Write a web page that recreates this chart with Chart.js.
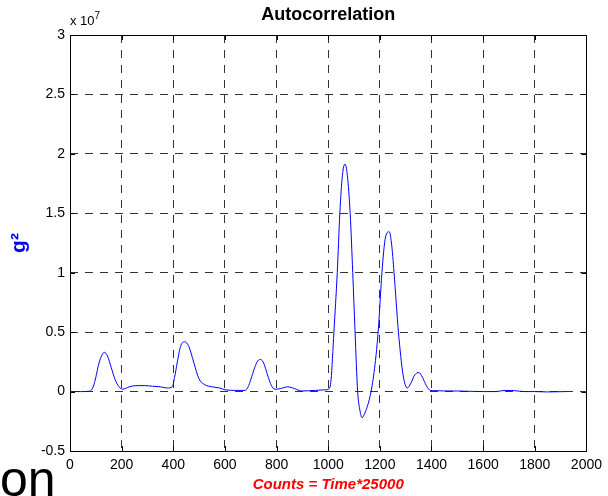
<!DOCTYPE html>
<html>
<head>
<meta charset="utf-8">
<script src="https://cdn.jsdelivr.net/npm/chart.js@4.4.0/dist/chart.umd.min.js"></script>
<style>
body { margin: 0; background: #fff; overflow: hidden; }
#wrap { position: relative; width: 608px; height: 496px; }
#myChart { position: absolute; left: 0; top: 0; }
.exp { position: absolute; left: 70px; top: 14px; font: 13px Arial, "Liberation Sans", sans-serif; line-height: 14px; color: #000; white-space: nowrap; }
.exp span { font-size: 10px; position: relative; top: -6px; }
.cut { position: absolute; left: 0; top: 454px; font: 50px Arial, "Liberation Sans", sans-serif; line-height: 50px; color: #000; }
</style>
</head>
<body>
<div id="wrap">
    <canvas id="myChart" width="608" height="496"></canvas>
    <div class="exp">x 10<span>7</span></div>
    <div class="cut">on</div>
</div>
<script>
// counts (x) and g^2 (in units of 1e7)
var counts = [1, 40, 76, 90, 100, 110, 120, 133, 145, 160, 175, 190, 204, 230, 255, 290, 320, 350, 377,
    396, 405, 415, 428, 444, 460, 480, 499, 520, 550, 580, 601, 640, 678, 690, 700, 715, 728, 738, 750,
    765, 780, 794, 815, 842, 870, 896, 950, 990, 1002, 1011, 1022, 1035, 1045, 1055, 1065, 1074,
    1085, 1095, 1104, 1114, 1123, 1131, 1140, 1155, 1170, 1185, 1195, 1208, 1222, 1236, 1245, 1255,
    1272, 1290, 1306, 1320, 1335, 1351, 1365, 1380, 1396, 1409, 1450, 1500, 1550, 1600, 1650, 1685,
    1720, 1760, 1800, 1850, 1922];
var g2 = [0, 0, 0.003, 0.04, 0.12, 0.22, 0.29, 0.33, 0.30, 0.20, 0.10, 0.04, 0.02, 0.04, 0.05, 0.05, 0.045, 0.04, 0.03,
    0.04, 0.12, 0.24, 0.38, 0.42, 0.38, 0.24, 0.11, 0.06, 0.04, 0.03, 0.015, 0.01, 0.01, 0.04, 0.10, 0.20, 0.26, 0.27, 0.24,
    0.14, 0.05, 0.02, 0.025, 0.04, 0.025, 0.005, 0.01, 0.015, 0.02, 0.10, 0.50, 1.00, 1.50, 1.82, 1.915, 1.82,
    1.50, 1.00, 0.50, 0.0, -0.16, -0.22, -0.19, -0.10, 0.05, 0.30, 0.55, 1.00, 1.30, 1.345, 1.25, 1.00,
    0.50, 0.14, 0.03, 0.07, 0.14, 0.16, 0.12, 0.05, 0.01, 0.008, 0.005, 0.005, 0.002, 0, 0, 0.01,
    0.008, 0, 0, -0.003, 0];

var xTicks = [0, 200, 400, 600, 800, 1000, 1200, 1400, 1600, 1800, 2000];
var yTicks = [-0.5, 0, 0.5, 1, 1.5, 2, 2.5, 3];

var fontFam = 'Arial, "Liberation Sans", sans-serif';
Chart.defaults.font.family = fontFam;
Chart.defaults.color = '#000';

var pts = [];
for (var i = 0; i < counts.length; i++) {
    pts.push({ x: counts[i], y: g2[i] });
}

// black box + inward ticks, matlab style
var framePlugin = {
    id: 'frame',
    afterDraw: function (chart) {
        var ctx = chart.ctx;
        var a = chart.chartArea;
        var sx = chart.scales.x, sy = chart.scales.y;
        ctx.save();
        ctx.setLineDash([]);
        ctx.strokeStyle = '#000';
        ctx.lineWidth = 1;
        ctx.beginPath();
        xTicks.forEach(function (v) {
            var px = Math.round(sx.getPixelForValue(v)) + 0.5;
            ctx.moveTo(px, a.bottom); ctx.lineTo(px, a.bottom - 5);
            ctx.moveTo(px, a.top); ctx.lineTo(px, a.top + 5);
        });
        yTicks.forEach(function (v) {
            var py = Math.round(sy.getPixelForValue(v)) + 0.5;
            ctx.moveTo(a.left, py); ctx.lineTo(a.left + 5, py);
            ctx.moveTo(a.right, py); ctx.lineTo(a.right - 5, py);
        });
        ctx.stroke();
        ctx.strokeRect(Math.round(a.left) + 0.5, Math.round(a.top) + 0.5,
            Math.round(a.right - a.left), Math.round(a.bottom - a.top));
        ctx.restore();
    }
};

var myChart = new Chart(document.getElementById('myChart'), {
    type: 'line',
    data: {
        datasets: [{
            label: 'g2',
            data: pts,
            borderColor: '#0000ff',
            borderWidth: 1,
            pointRadius: 0,
            fill: false,
            cubicInterpolationMode: 'monotone'
        }]
    },
    options: {
        responsive: false,
        animation: false,
        devicePixelRatio: 1,
        layout: { padding: { left: 0, right: 18, top: 0, bottom: 0 } },
        plugins: {
            legend: { display: false },
            tooltip: { enabled: false },
            title: {
                display: true,
                text: 'Autocorrelation',
                fullSize: false,
                color: '#000',
                font: { size: 18, weight: 'bold' },
                padding: { top: 4, bottom: 9.4 }
            }
        },
        scales: {
            x: {
                type: 'linear',
                min: xTicks[0],
                max: xTicks[xTicks.length - 1],
                afterBuildTicks: function (s) {
                    s.ticks = xTicks.map(function (v) { return { value: v }; });
                },
                afterFit: function (s) { s.height = 45; },
                ticks: {
                    autoSkip: false,
                    maxRotation: 0,
                    padding: 6,
                    font: { size: 14 },
                    callback: function (v) { return String(v); }
                },
                grid: { color: '#333', lineWidth: 1, drawTicks: false },
                border: { display: false, dash: [8, 7] },
                title: {
                    display: true,
                    text: 'Counts = Time*25000',
                    color: '#ff0000',
                    font: { size: 15, weight: 'bold', style: 'italic' },
                    padding: { top: 0, bottom: 2 }
                }
            },
            y: {
                type: 'linear',
                min: yTicks[0],
                max: yTicks[yTicks.length - 1],
                afterBuildTicks: function (s) {
                    s.ticks = yTicks.map(function (v) { return { value: v }; });
                },
                afterFit: function (s) { s.width = 70; },
                ticks: {
                    autoSkip: false,
                    padding: 5,
                    font: { size: 14 },
                    callback: function (v) { return String(v); }
                },
                grid: { color: '#333', lineWidth: 1, drawTicks: false },
                border: { display: false, dash: [8, 7] },
                title: {
                    display: true,
                    text: 'g²',
                    color: '#0000ff',
                    font: { size: 21, weight: 'bold' },
                    padding: { top: 7, bottom: 0 }
                }
            }
        }
    },
    plugins: [framePlugin]
});
</script>
</body>
</html>
